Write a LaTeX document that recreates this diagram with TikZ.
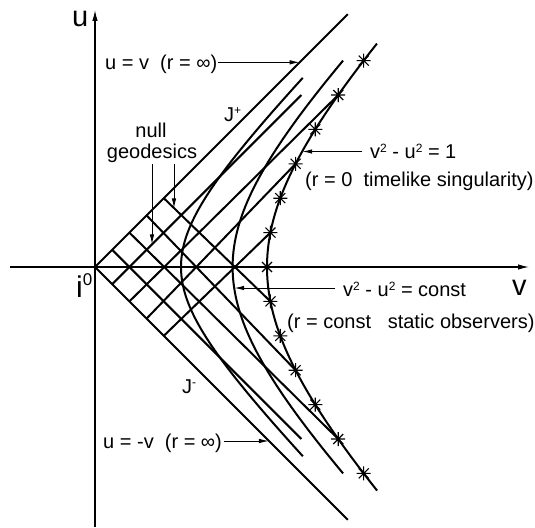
\documentclass[tikz,border=0pt]{standalone}
\usepackage{fontspec}
\setmainfont{Liberation Sans}
\usetikzlibrary{arrows.meta}
\newcommand\suptwo{\raisebox{5.5pt}{\fontsize{12}{12}\selectfont 2}}
\begin{document}
\begin{tikzpicture}[x=1pt,y=-1pt,
  thickline/.style={line width=2pt},
  axisline/.style={line width=1.2pt,-{Latex[length=11pt,width=5.5pt]}},
  labarrow/.style={line width=1pt,-{Latex[length=10pt,width=4.5pt]}},
  lab/.style={font=\fontsize{20}{22}\selectfont, inner sep=0pt, anchor=base west},
  labc/.style={font=\fontsize{20}{22}\selectfont, inner sep=0pt, anchor=base},
  big/.style={font=\fontsize{29}{32}\selectfont, inner sep=0pt, anchor=base west},
  starmark/.style={line width=1.1pt}
]
\useasboundingbox (0,0) rectangle (535,527);

% axes
\coordinate (ubot) at (95,527);
\coordinate (utop) at (95,10);
\coordinate (vleft) at (10,267);
\coordinate (vright) at (529,267);
\draw[axisline] (ubot) -- (utop);
\draw[axisline] (vleft) -- (vright);

% diagram in (v,u) coordinates
\begin{scope}[shift={(95,267)}, x=172pt, y=172pt]
  \coordinate (O) at (0,0);
  \coordinate (Jp) at (1.47,1.47);
  \coordinate (Jm) at (1.47,-1.47);
  \draw[thickline] (O) -- (Jp);
  \draw[thickline] (O) -- (Jm);
  % null geodesics
  \foreach \a/\b/\e in {0.1/1.2/1.0, 0.2/1.41421/1.0, 0.3/1.16619/0.6, 0.4/1.01980/0.2}{
    \draw[thickline] (\a,\a) -- (\b,-\e);
    \draw[thickline] (\a,-\a) -- (\b,\e);
  }
  % hyperbolae
  \draw[thickline] plot[domain=-1.1:1.1, samples=81, smooth] ({sqrt(0.25+\x*\x)},\x);
  \draw[thickline] plot[domain=-1.2:1.2, samples=81, smooth] ({sqrt(0.64+\x*\x)},\x);
  \draw[thickline] plot[domain=-1.3:1.3, samples=81, smooth] ({sqrt(1+\x*\x)},\x);
  % stars
  \foreach \k in {-6,...,6}{
    \pgfmathsetmacro\uu{0.2*\k}
    \pgfmathsetmacro\vv{sqrt(1+\uu*\uu)}
    \coordinate (S) at (\vv,\uu);
    \draw[starmark] (S) +(-7pt,0pt) -- +(7pt,0pt)
                    (S) +(0pt,-7pt) -- +(0pt,7pt)
                    (S) +(-5pt,-5pt) -- +(5pt,5pt)
                    (S) +(-5pt,5pt) -- +(5pt,-5pt);
  }
  % arrow targets
  \coordinate (A1) at (1.19,1.19);
  \coordinate (A2) at (1.2045,0.6715);
  \coordinate (A3) at (0.8093,-0.1221);
  \coordinate (A4) at (1.0116,-1.0116);
  \coordinate (A5) at (0.3314,0.1314);
  \coordinate (A6) at (0.4593,0.3407);
\end{scope}

% labels
\node[big] (lu) at (72,27) {u};
\node[big] (lv) at (512,295) {v};
\node[inner sep=0pt, anchor=base west, font=\fontsize{30}{32}\selectfont] (li) at (76,297) {i\raisebox{12pt}{\fontsize{17}{17}\selectfont 0}};
\node[lab] (ljp) at (224,121) {J\raisebox{6.5pt}{\fontsize{12}{12}\selectfont +}};
\node[lab] (ljm) at (182,393) {J\raisebox{6.5pt}{\fontsize{12}{12}\selectfont -}};
\node[labc] (ng1) at (151,137) {null};
\node[labc] (ng2) at (152,158) {geodesics};
\node[lab] (luv) at (105,70) {u = v\ \ (r = ∞)};
\node[lab] (lmv) at (103,448) {u = -v\ \ (r = ∞)};
\node[lab] (lh1) at (370,158) {v\suptwo{} - u\suptwo{} = 1};
\node[lab] (lh1b) at (305,186) {(r = 0\ \ timelike singularity)};
\node[lab] (lhc) at (343,296) {v\suptwo{} - u\suptwo{} = const};
\node[lab] (lhcb) at (287,328) {(r = const\ \ \ static observers)};

% label arrows
\draw[labarrow] ([xshift=1pt]luv.east |- A1) -- (A1);
\draw[labarrow] ([xshift=2pt]lmv.east |- A4) -- (A4);
\draw[labarrow] ([xshift=-8pt]lh1.west |- A2) -- (A2);
\draw[labarrow] ([xshift=-8pt]lhc.west |- A3) -- (A3);
\draw[labarrow] ([yshift=-2pt]A5 |- ng2.south) -- (A5);
\draw[labarrow] ([yshift=-2pt]A6 |- ng2.south) -- (A6);
\end{tikzpicture}
\end{document}
